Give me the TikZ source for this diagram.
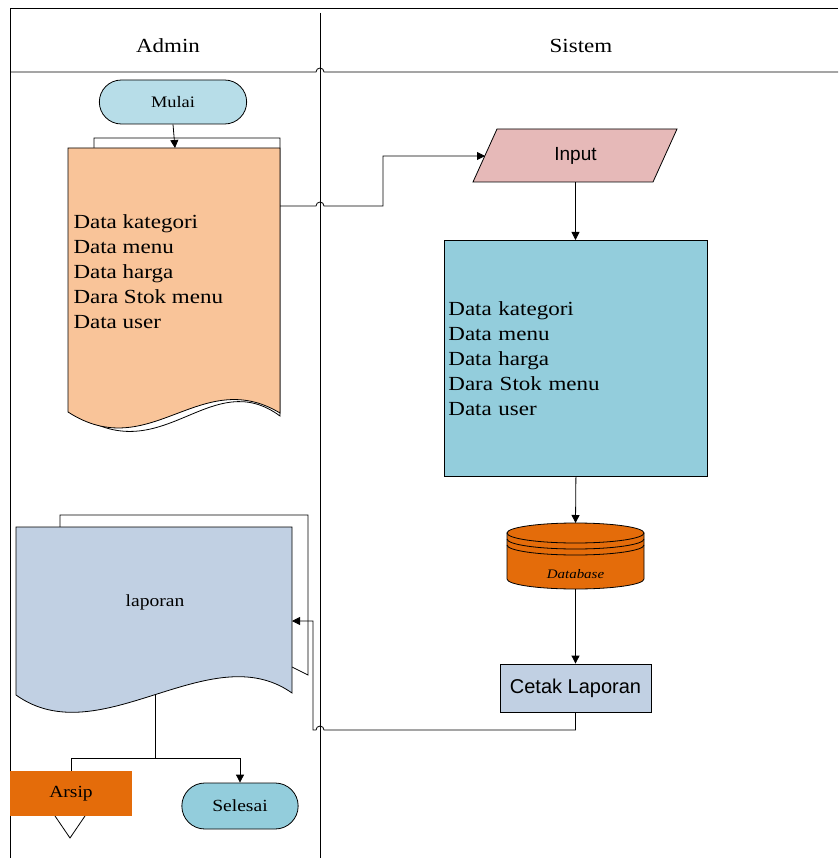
\documentclass[tikz,border=0pt]{standalone}
\usepackage{fontspec}
\setmainfont{Liberation Serif}[FakeStretch=1.15]
\setsansfont{Liberation Sans}
\usetikzlibrary{arrows.meta,shapes.misc,positioning}

\definecolor{mulaiblue}{HTML}{B7DDE8}
\definecolor{docpeach}{HTML}{F9C499}
\definecolor{inputpink}{HTML}{E6B9B8}
\definecolor{sysblue}{HTML}{93CDDC}
\definecolor{dborange}{HTML}{E46C0A}
\definecolor{lapblue}{HTML}{C1D0E3}

\tikzset{
  line/.style={draw, line width=0.8pt},
  arr/.style={line, -{Triangle[length=8pt,width=8pt]}},
  terminal/.style={rounded rectangle, draw, line width=0.8pt, font=\fontsize{17}{20}\selectfont},
  datatext/.style={align=left, font=\fontsize{20}{25}\selectfont},
  lanehead/.style={font=\fontsize{20}{24}\selectfont},
}

\begin{document}
\begin{tikzpicture}[x=1pt,y=-1pt]
\useasboundingbox (0,0) rectangle (838,858);

% lanes
\draw[line] (10,858) -- (10,8) -- (838,8);
\draw[line] (10,72) -- (316,72) arc (180:360:4) -- (838,72);
\draw[line] (320,13) -- (320,858);
\node[lanehead] (admin) at (168,46) {Admin};
\node[lanehead] (sistem) at (581,46) {Sistem};

% admin: start and input document
\node[terminal, fill=mulaiblue, minimum width=154pt, minimum height=44pt,
      font=\fontsize{16}{19}\selectfont] (mulai) at (173,102) {Mulai};
\draw[line, fill=white] (94,300) -- (94,138) -- (280,138) -- (280,416)
  .. controls (212,366) and (165,466) .. (84,418) -- cycle;
\draw[line, fill=docpeach] (68,148) -- (280,148) -- (280,413)
  .. controls (200,365) and (150,465) .. (68,412) -- cycle;
\node[datatext, anchor=west] (datadoc) at (70,272)
  {Data kategori\\Data menu\\Data harga\\Dara Stok menu\\Data user};
\coordinate (datadoc-top) at (175,148);
\coordinate (datadoc-out) at (280,206);
\draw[arr] (mulai.south) -- (datadoc-top);

% sistem: input
\draw[line, fill=inputpink] (497,129) -- (677,129) -- (653,182) -- (473,182) -- cycle;
\node[minimum width=180pt, minimum height=53pt, font=\sffamily\fontsize{19}{22}\selectfont]
  (input) at (575.5,155.5) {Input};
\coordinate (input-in) at (485,156);
\draw[arr] (datadoc-out) -- (316,206) arc (180:360:4) -- (383,206) |- (input-in);

% sistem: data
\node[draw, line width=0.8pt, fill=sysblue, datatext, minimum width=263pt,
      minimum height=236pt, text width=255pt, inner sep=4pt, anchor=north west]
  (datasys) at (444,240)
  {Data kategori\\Data menu\\Data harga\\Dara Stok menu\\Data user};
\draw[arr] (input.south) -- (input.south |- datasys.north);

% database
\begin{scope}[line width=0.8pt]
  \draw[fill=dborange] (507,533) -- (507,579)
    arc[start angle=180, end angle=0, x radius=68.5, y radius=10] -- (644,533) -- cycle;
  \draw[fill=dborange] (575.5,533) ellipse [x radius=68.5, y radius=10];
  \draw (507,539) arc[start angle=180, end angle=0, x radius=68.5, y radius=10];
  \draw (507,545) arc[start angle=180, end angle=0, x radius=68.5, y radius=10];
\end{scope}
\node[font=\itshape\fontsize{13}{15}\selectfont] (db) at (575.5,574) {Database};
\coordinate (db-top) at (575.5,523);
\coordinate (db-bot) at (575.5,589);
\draw[arr] (datasys.south) -- (db-top);

% sistem: print
\node[draw, line width=0.8pt, fill=lapblue, minimum width=151pt, minimum height=48pt,
      font=\sffamily\fontsize{20}{24}\selectfont] (cetak) at (575.5,688) {Cetak Laporan};
\draw[arr] (db-bot) -- (cetak.north);

% admin: report
\draw[line, fill=white] (60,560) -- (60,515) -- (308,515) -- (308,675) -- (280,661);
\draw[line, fill=lapblue] (16,527) -- (292,527) -- (292,693)
  .. controls (210,635) and (100,755) .. (16,695) -- cycle;
\node[font=\fontsize{17}{20}\selectfont] (laporan) at (155,602) {laporan};
\coordinate (lap-in) at (292,621);
\coordinate (lap-out) at (155,695);
\draw[arr] (cetak.south) |- (324,730) arc (0:-180:4) -- (313,730) |- (lap-in);

% end
\draw[line, fill=white] (30.5,780) -- (109.5,780) -- (70,838) -- cycle;
\node[fill=dborange, minimum width=122pt, minimum height=45pt,
      font=\fontsize{17}{20}\selectfont] (arsip) at (71,793.5) {Arsip};
\node[terminal, fill=sysblue, minimum width=123pt, minimum height=46pt] (selesai) at (240,806) {Selesai};
\coordinate (split) at (155,758);
\draw[line] (lap-out) -- (split) -| (arsip.north);
\draw[arr] (split) -| (selesai.north);
\end{tikzpicture}
\end{document}
